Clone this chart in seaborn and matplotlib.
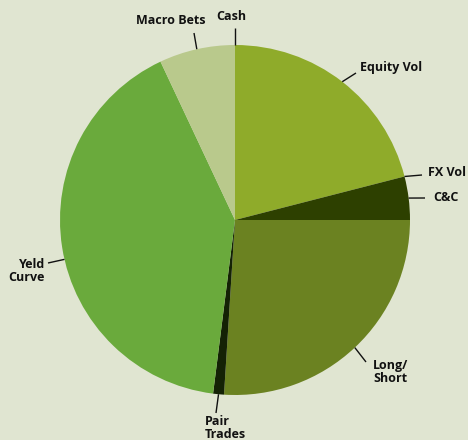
import numpy as np
import matplotlib
matplotlib.use("Agg")
import matplotlib.pyplot as plt
import seaborn as sns

# ---- data ----
categories = ["Equity Vol", "FX Vol", "C&C", "Long/\nShort", "Pair\nTrades",
              "Yeld\nCurve", "Macro Bets", "Cash"]
values = [21, 0, 4, 26, 1, 41, 7, 0]
colors = ["#8fab2a", "#8fab2a", "#2d4000", "#6b8221", "#142205",
          "#6aaa3c", "#b9c98c", "#b9c98c"]

# ---- label layout (pixel coords of the 468x440 canvas) ----
# (text x, text y, ha, line outer x, line outer y, anchor angle shift deg)
layout = {
    "Equity Vol": (360, 67, "left", 356, 73, 0),
    "FX Vol": (428, 173, "left", 422, 175, 0),
    "C&C": (433, 197, "left", 425, 198, 0),
    "Long/\nShort": (373, 372, "left", 366, 362, 0),
    "Pair\nTrades": (205, 428, "left", 216, 413, 0),
    "Yeld\nCurve": (45, 271, "right", 48, 263, 4),
    "Macro Bets": (171, 20, "center", 194, 33, 0),
    "Cash": (231, 17, "center", 235, 28, 0),
}

W, H = 468, 440
CX, CY, R = 235, 220, 175

sns.set_style("white")
plt.rcParams["font.family"] = ["Open Sans", "DejaVu Sans"]

bg = "#e0e5d1"
fig = plt.figure(figsize=(W / 100, H / 100), dpi=100, facecolor=bg)
ax = fig.add_axes([0, 0, 1, 1])
ax.set_facecolor(bg)


def px(x, y):
    return (x - CX) / R, (CY - y) / R


wedges, _ = ax.pie(values, colors=colors, startangle=90, counterclock=False,
                   radius=1.0, center=(0, 0),
                   wedgeprops=dict(linewidth=0))

for w, lab in zip(wedges, categories):
    tx, ty, ha, lx, ly, shift = layout[lab]
    mid = np.deg2rad((w.theta1 + w.theta2) / 2 + shift)
    ex, ey = np.cos(mid), np.sin(mid)
    ox, oy = px(lx, ly)
    ax.plot([ex, ox], [ey, oy], color="#111111", lw=1.0, solid_capstyle="butt")
    txx, tyy = px(tx, ty)
    ax.text(txx, tyy, lab, ha=ha, va="center", fontsize=9,
            fontweight="bold", color="#111111", linespacing=1.0,
            multialignment="left" if ha != "right" else "right")

ax.set_xlim(-CX / R, (W - CX) / R)
ax.set_ylim(-(H - CY) / R, CY / R)
ax.set_aspect("auto")
ax.axis("off")

fig.savefig("out.png", dpi=100, facecolor=bg)
